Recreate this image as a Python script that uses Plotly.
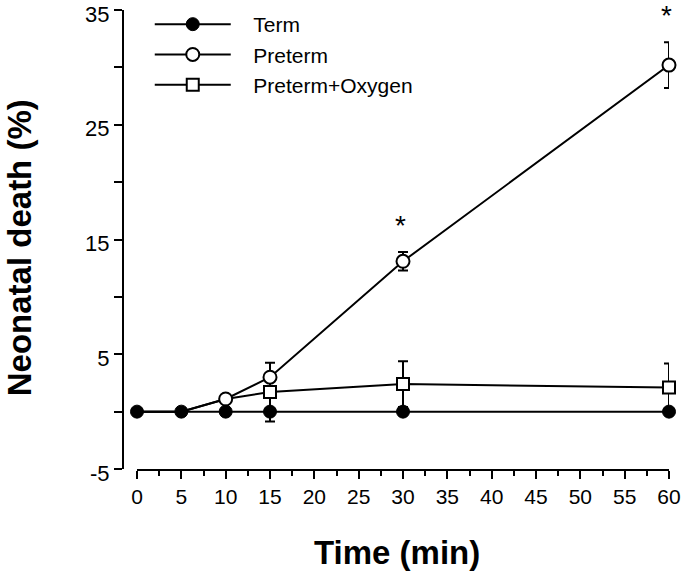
import plotly.graph_objects as go

time_min = [0, 5, 10, 15, 30, 60]
term = [0, 0, 0, 0, 0, 0]
preterm = [0, 0, 1.1, 3.0, 13.1, 30.2]
preterm_err = [0, 0, 0, 0, 0.8, 2.0]
oxygen = [0, 0, 1.1, 1.7, 2.4, 2.1]
oxygen_err = [0, 0, 0, 2.55, 2.0, 2.1]
sig_times = [30, 60]

y_ticks = [-5, 0, 5, 10, 15, 20, 25, 30, 35]
y_ticktext = ["-5", "", "5", "", "15", "", "25", "", "35"]
x_ticks = [0, 5, 10, 15, 20, 25, 30, 35, 40, 45, 50, 55, 60]

FONT = "Arial, Liberation Sans, Helvetica, sans-serif"
PAD = "\u00a0" * 3

# markers shown only where they are not hidden under another series' marker
pre_visible = [2, 3, 4, 5]
oxy_visible = [3, 4, 5]

fig = go.Figure()
fig.add_trace(go.Scatter(
    x=time_min, y=oxygen, name=PAD + "Preterm+Oxygen", mode="lines+markers",
    line=dict(color="black", width=2),
    marker=dict(symbol="square", size=12, color="white", opacity=1,
                line=dict(color="black", width=2)),
    selectedpoints=oxy_visible, unselected=dict(marker=dict(opacity=0)),
    error_y=dict(type="data", array=oxygen_err, color="black", thickness=2, width=5),
    cliponaxis=False,
))
fig.add_trace(go.Scatter(
    x=time_min, y=preterm, name=PAD + "Preterm", mode="lines+markers",
    line=dict(color="black", width=2),
    marker=dict(symbol="circle", size=13, color="white", opacity=1,
                line=dict(color="black", width=2)),
    selectedpoints=pre_visible, unselected=dict(marker=dict(opacity=0)),
    error_y=dict(type="data", array=preterm_err, color="black", thickness=2, width=5),
    cliponaxis=False,
))
fig.add_trace(go.Scatter(
    x=time_min, y=term, name=PAD + "Term", mode="lines+markers",
    line=dict(color="black", width=2),
    marker=dict(symbol="circle", size=13, color="black", line=dict(color="black", width=1)),
    cliponaxis=False,
))

for t in sig_times:
    i = time_min.index(t)
    fig.add_annotation(x=t, y=preterm[i] + preterm_err[i], text="*", showarrow=False,
                       yanchor="bottom", yshift=9, xshift=-3,
                       font=dict(size=28, color="black", family=FONT))

# axis titles
fig.add_annotation(xref="paper", yref="paper", x=0.502, y=-0.177, text="<b>Time (min)</b>",
                   showarrow=False, xanchor="center", yanchor="middle",
                   font=dict(size=33, color="black", family=FONT))
fig.add_annotation(xref="paper", yref="paper", x=-0.19, y=0.4712, text="<b>Neonatal death (%)</b>",
                   showarrow=False, xanchor="center", yanchor="middle", textangle=-90,
                   font=dict(size=33, color="black", family=FONT))

fig.update_layout(
    width=685, height=574,
    margin=dict(l=123, r=16, t=0, b=105),
    paper_bgcolor="white", plot_bgcolor="white",
    font=dict(family=FONT, color="black"),
    showlegend=True,
    legend=dict(x=0.049, y=1 - 4 / 469, xanchor="left", yanchor="top", traceorder="reversed",
                font=dict(size=21, family=FONT), bgcolor="rgba(0,0,0,0)",
                itemwidth=76),
    xaxis=dict(
        domain=[14 / 546, 1], range=[0, 60], tickvals=x_ticks,
        ticks="outside", ticklen=8, tickwidth=2, tickcolor="black",
        minor=dict(dtick=2.5, tick0=0, ticks="outside", ticklen=5, tickwidth=2, tickcolor="black"),
        showline=True, linewidth=2, linecolor="black", showgrid=False, zeroline=False,
        tickfont=dict(size=21), anchor="y", automargin=False, ticklabeloverflow="allow",
    ),
    yaxis=dict(
        domain=[0, 459 / 469],
        range=[-5, 35], tickvals=y_ticks, ticktext=y_ticktext,
        ticks="outside", ticklen=8, tickwidth=2, tickcolor="black",
        showline=True, linewidth=2, linecolor="black", showgrid=False, zeroline=False,
        tickfont=dict(size=22), anchor="free", position=0, automargin=False,
        ticklabeloverflow="allow", ticklabelshift=4,
    ),
)

fig.write_html("out.html", config={"displayModeBar": False},
               post_script="document.body.style.margin='0';document.body.style.overflow='hidden';")
